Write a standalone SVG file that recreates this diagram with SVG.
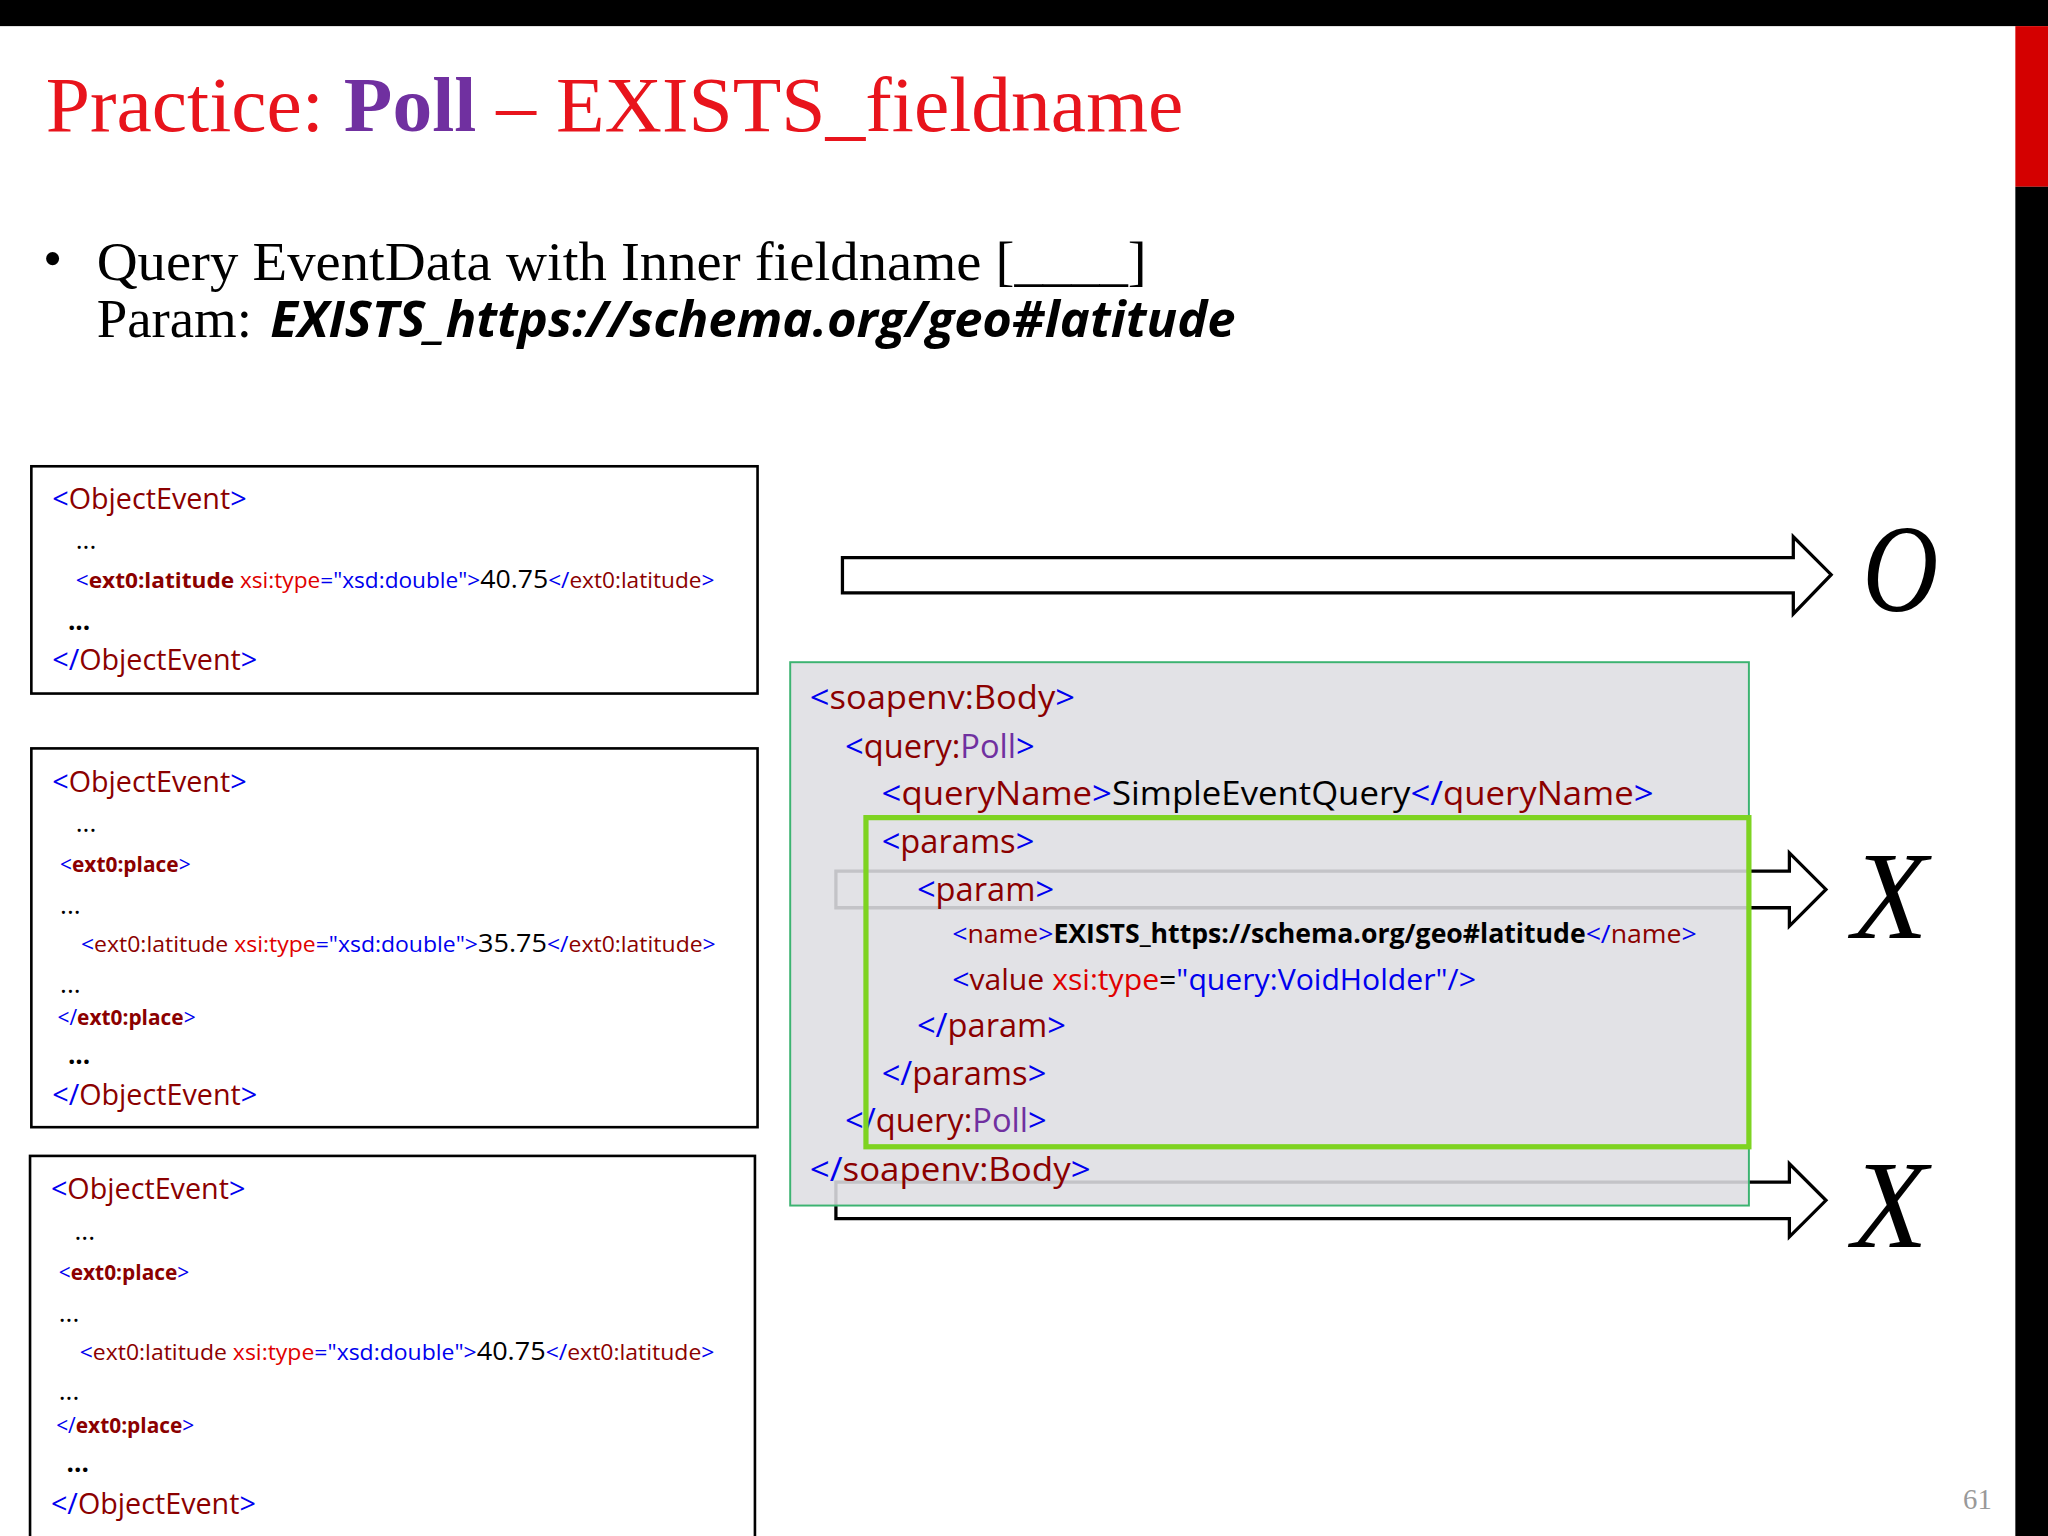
<svg xmlns="http://www.w3.org/2000/svg" width="2048" height="1536" viewBox="0 0 2048 1536">
<style>
.c{font-family:"Open Sans","Liberation Sans",sans-serif}
.b{fill:#0000ee}.r{fill:#8b0000}.rr{fill:#e00000}.p{fill:#7030a0}.k{fill:#000}
.box{fill:#fff;stroke:#000;stroke-width:2}
.arr{fill:#fff;stroke:#000;stroke-width:2.5}
.big{font-family:"Liberation Serif",serif;font-style:italic;font-size:95px}
</style>
<rect width="2048" height="1536" fill="#fff"/>
<g transform="scale(1.30612)">
<rect x="0" y="0" width="1568" height="20" fill="#000"/>
<rect x="1543" y="20" width="25" height="123" fill="#d40000"/>
<rect x="1543" y="143" width="25" height="1033" fill="#000"/>
<g id="title"><text x="35" y="100" font-family="Liberation Serif,serif" font-size="60" textLength="871" lengthAdjust="spacingAndGlyphs"><tspan fill="#e8141c">Practice: </tspan><tspan fill="#7030a0" font-weight="bold">Poll</tspan><tspan fill="#e8141c"> – EXISTS_fieldname</tspan></text></g>
<g id="bullet" font-family="Liberation Serif,serif" font-size="42">
<text x="33" y="212">•</text>
<text x="74" y="214" textLength="804" lengthAdjust="spacingAndGlyphs">Query EventData with Inner fieldname [____]</text>
<text x="74" y="258">Param: </text>
<text x="207" y="258" font-family="Open Sans,Liberation Sans,sans-serif" font-weight="bold" font-style="italic" font-size="38" textLength="739" lengthAdjust="spacingAndGlyphs">EXISTS_https://schema.org/geo#latitude</text>
</g>
<g id="event1" class="c">
<rect class="box" x="24" y="357" width="556" height="174"/>
<text x="40" y="390" font-size="22"><tspan class="b">&lt;</tspan><tspan class="r">ObjectEvent</tspan><tspan class="b">&gt;</tspan></text>
<text x="58" y="420" font-size="20">...</text>
<text x="58" y="450" font-size="17" textLength="489" lengthAdjust="spacingAndGlyphs"><tspan class="b">&lt;</tspan><tspan class="r" font-weight="bold">ext0:latitude</tspan><tspan class="rr"> xsi:type</tspan><tspan class="b">="xsd:double"&gt;</tspan><tspan font-size="20">40.75</tspan><tspan class="b">&lt;/</tspan><tspan class="r">ext0:latitude</tspan><tspan class="b">&gt;</tspan></text>
<text x="52" y="482" font-size="20" font-weight="bold">...</text>
<text x="40" y="513" font-size="22"><tspan class="b">&lt;/</tspan><tspan class="r">ObjectEvent</tspan><tspan class="b">&gt;</tspan></text>
</g>
<g id="event2" class="c">
<rect class="box" x="24" y="573" width="556" height="290"/>
<text x="40" y="606" font-size="22"><tspan class="b">&lt;</tspan><tspan class="r">ObjectEvent</tspan><tspan class="b">&gt;</tspan></text>
<text x="58" y="637" font-size="20">...</text>
<text x="46" y="668" font-size="16"><tspan class="b">&lt;</tspan><tspan class="r" font-weight="bold">ext0:place</tspan><tspan class="b">&gt;</tspan></text>
<text x="46" y="700" font-size="20">...</text>
<text x="62" y="729" font-size="17" textLength="486" lengthAdjust="spacingAndGlyphs"><tspan class="b">&lt;</tspan><tspan class="r">ext0:latitude</tspan><tspan class="rr"> xsi:type</tspan><tspan class="b">="xsd:double"&gt;</tspan><tspan font-size="20">35.75</tspan><tspan class="b">&lt;/</tspan><tspan class="r">ext0:latitude</tspan><tspan class="b">&gt;</tspan></text>
<text x="46" y="760" font-size="20">...</text>
<text x="44" y="785" font-size="16"><tspan class="b">&lt;/</tspan><tspan class="r" font-weight="bold">ext0:place</tspan><tspan class="b">&gt;</tspan></text>
<text x="52" y="815" font-size="20" font-weight="bold">...</text>
<text x="40" y="846" font-size="22"><tspan class="b">&lt;/</tspan><tspan class="r">ObjectEvent</tspan><tspan class="b">&gt;</tspan></text>
</g>
<g id="event3" class="c">
<rect class="box" x="23" y="885" width="555" height="295"/>
<text x="39" y="918" font-size="22"><tspan class="b">&lt;</tspan><tspan class="r">ObjectEvent</tspan><tspan class="b">&gt;</tspan></text>
<text x="57" y="949" font-size="20">...</text>
<text x="45" y="980" font-size="16"><tspan class="b">&lt;</tspan><tspan class="r" font-weight="bold">ext0:place</tspan><tspan class="b">&gt;</tspan></text>
<text x="45" y="1012" font-size="20">...</text>
<text x="61" y="1041" font-size="17" textLength="486" lengthAdjust="spacingAndGlyphs"><tspan class="b">&lt;</tspan><tspan class="r">ext0:latitude</tspan><tspan class="rr"> xsi:type</tspan><tspan class="b">="xsd:double"&gt;</tspan><tspan font-size="20">40.75</tspan><tspan class="b">&lt;/</tspan><tspan class="r">ext0:latitude</tspan><tspan class="b">&gt;</tspan></text>
<text x="45" y="1072" font-size="20">...</text>
<text x="43" y="1097" font-size="16"><tspan class="b">&lt;/</tspan><tspan class="r" font-weight="bold">ext0:place</tspan><tspan class="b">&gt;</tspan></text>
<text x="51" y="1127" font-size="20" font-weight="bold">...</text>
<text x="39" y="1159" font-size="22"><tspan class="b">&lt;/</tspan><tspan class="r">ObjectEvent</tspan><tspan class="b">&gt;</tspan></text>
</g>
<g id="connectors">
<path class="arr" d="M645 427 H1373 V411 L1402 440 L1373 470 V454 H645 Z"/>
<path class="arr" d="M640 667 H1370 V653 L1398 681 L1370 709 V695 H640 Z"/>
<path class="arr" d="M640 905 H1370 V891 L1398 919 L1370 947 V933 H640 Z"/>
</g>
<g id="query" class="c">
<rect x="605" y="507" width="734" height="416" fill="#dedee2" fill-opacity="0.88" stroke="#3cb371" stroke-width="1.5"/>
<text x="620" y="543" font-size="25" textLength="203" lengthAdjust="spacingAndGlyphs"><tspan class="b">&lt;</tspan><tspan class="r">soapenv:Body</tspan><tspan class="b">&gt;</tspan></text>
<text x="647" y="580" font-size="25"><tspan class="b">&lt;</tspan><tspan class="r">query:</tspan><tspan class="p">Poll</tspan><tspan class="b">&gt;</tspan></text>
<text x="675" y="616" font-size="25" textLength="591" lengthAdjust="spacingAndGlyphs"><tspan class="b">&lt;</tspan><tspan class="r">queryName</tspan><tspan class="b">&gt;</tspan>SimpleEventQuery<tspan class="b">&lt;/</tspan><tspan class="r">queryName</tspan><tspan class="b">&gt;</tspan></text>
<text x="675" y="653" font-size="25"><tspan class="b">&lt;</tspan><tspan class="r">params</tspan><tspan class="b">&gt;</tspan></text>
<text x="702" y="690" font-size="25"><tspan class="b">&lt;</tspan><tspan class="r">param</tspan><tspan class="b">&gt;</tspan></text>
<text x="729" y="722" font-size="20" textLength="570" lengthAdjust="spacingAndGlyphs"><tspan class="b">&lt;</tspan><tspan class="r">name</tspan><tspan class="b">&gt;</tspan><tspan font-weight="bold">EXISTS_https://schema.org/geo#latitude</tspan><tspan class="b">&lt;/</tspan><tspan class="r">name</tspan><tspan class="b">&gt;</tspan></text>
<text x="729" y="758" font-size="22" textLength="401" lengthAdjust="spacingAndGlyphs"><tspan class="b">&lt;</tspan><tspan class="r">value</tspan><tspan class="rr"> xsi:type</tspan>=<tspan class="b">"query:VoidHolder"/&gt;</tspan></text>
<text x="702" y="794" font-size="25"><tspan class="b">&lt;/</tspan><tspan class="r">param</tspan><tspan class="b">&gt;</tspan></text>
<text x="675" y="831" font-size="25"><tspan class="b">&lt;/</tspan><tspan class="r">params</tspan><tspan class="b">&gt;</tspan></text>
<text x="647" y="867" font-size="25"><tspan class="b">&lt;/</tspan><tspan class="r">query:</tspan><tspan class="p">Poll</tspan><tspan class="b">&gt;</tspan></text>
<text x="620" y="904" font-size="25" textLength="215" lengthAdjust="spacingAndGlyphs"><tspan class="b">&lt;/</tspan><tspan class="r">soapenv:Body</tspan><tspan class="b">&gt;</tspan></text>
<rect x="663" y="626" width="676" height="252" fill="none" stroke="#7ed321" stroke-width="4"/>
</g>
<g id="results">
<text class="big" x="1426" y="468" font-size="88" textLength="58" lengthAdjust="spacingAndGlyphs">O</text>
<text class="big" x="1418" y="718">X</text>
<text class="big" x="1418" y="955">X</text>
</g>
<text x="1503" y="1155" font-family="Liberation Serif,serif" font-size="22" fill="#999">61</text>
</g>
</svg>
